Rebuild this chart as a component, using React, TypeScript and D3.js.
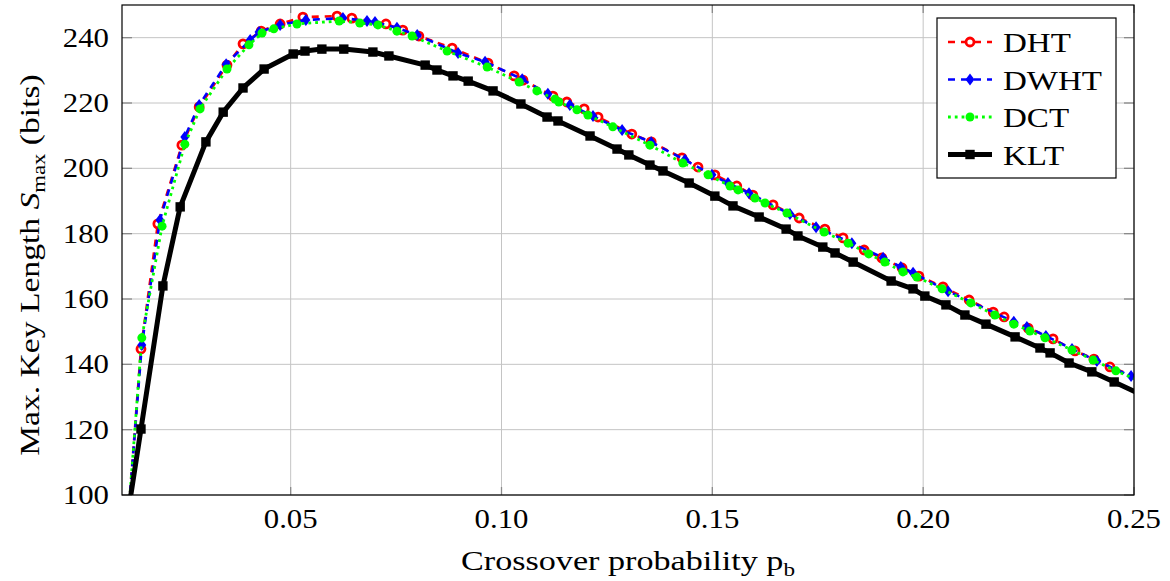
import React from "react";
import * as d3 from "d3";

// ---- Data ----
const xTicks = [0.05, 0.1, 0.15, 0.2, 0.25];
const xTickLabels = ["0.05", "0.10", "0.15", "0.20", "0.25"];
const yTicks = [100, 120, 140, 160, 180, 200, 220, 240];

const dhtX = [0.0117, 0.0145, 0.0185, 0.0242, 0.0283, 0.0349, 0.0387, 0.043, 0.0475, 0.0529, 0.061, 0.0645, 0.0726, 0.0766, 0.0804, 0.0883, 0.0968, 0.103, 0.1051, 0.1122, 0.1155, 0.1196, 0.1229, 0.1309, 0.1355, 0.1428, 0.1466, 0.1506, 0.1558, 0.1596, 0.1644, 0.1706, 0.1767, 0.181, 0.186, 0.1902, 0.195, 0.199, 0.2047, 0.2109, 0.2166, 0.2192, 0.2249, 0.2308, 0.236, 0.2405, 0.2443, 0.2515];
const dhtY = [96.9, 144.7, 183.0, 207.1, 218.8, 231.6, 238.1, 242.0, 244.2, 246.3, 246.6, 246.0, 244.2, 242.3, 240.5, 236.8, 232.2, 228.3, 227.0, 222.1, 220.3, 218.2, 215.7, 210.5, 208.1, 203.2, 200.4, 198.0, 194.6, 191.8, 188.8, 184.8, 181.4, 178.7, 175.0, 172.6, 169.5, 167.0, 163.7, 159.7, 156.0, 154.5, 151.1, 147.8, 144.1, 141.6, 139.2, 135.6];

const dwhtX = [0.0117, 0.0147, 0.019, 0.0249, 0.0283, 0.0347, 0.0404, 0.0425, 0.0475, 0.0536, 0.0624, 0.0681, 0.07, 0.0752, 0.08, 0.0897, 0.0961, 0.1049, 0.111, 0.1162, 0.1217, 0.1286, 0.1355, 0.1435, 0.1499, 0.1537, 0.1587, 0.1684, 0.1746, 0.1831, 0.1905, 0.1947, 0.1976, 0.2059, 0.2215, 0.2246, 0.2291, 0.2353, 0.2412, 0.2493];
const dwhtY = [96.9, 145.9, 184.2, 209.6, 219.4, 231.9, 239.3, 241.7, 243.9, 245.4, 246.0, 245.1, 244.8, 243.0, 240.8, 235.3, 232.6, 227.3, 222.8, 219.4, 216.0, 211.7, 208.0, 202.6, 198.0, 195.5, 192.4, 186.0, 182.0, 177.1, 172.6, 169.8, 168.0, 162.4, 153.0, 151.4, 148.7, 144.7, 141.0, 136.4];

const dctX = [0.0117, 0.0147, 0.0195, 0.0249, 0.0285, 0.0349, 0.0401, 0.0432, 0.046, 0.0515, 0.0615, 0.0664, 0.0707, 0.0752, 0.0788, 0.0871, 0.0966, 0.1042, 0.1084, 0.1127, 0.1136, 0.1179, 0.1205, 0.1264, 0.1352, 0.143, 0.149, 0.1542, 0.1561, 0.1601, 0.1625, 0.1677, 0.1765, 0.1822, 0.1871, 0.1909, 0.1952, 0.1985, 0.2045, 0.2113, 0.217, 0.2215, 0.2253, 0.2289, 0.2353, 0.2403, 0.2457, 0.2512];
const dctY = [96.9, 148.1, 182.3, 207.4, 218.2, 230.4, 237.8, 241.4, 242.7, 244.2, 245.1, 244.5, 243.9, 242.0, 240.5, 235.9, 231.0, 226.4, 223.7, 221.2, 220.3, 217.9, 216.3, 212.7, 207.1, 201.6, 198.0, 194.6, 193.4, 190.9, 189.4, 186.3, 180.5, 177.1, 173.8, 171.3, 168.3, 166.7, 163.1, 158.8, 155.1, 152.3, 150.2, 148.1, 144.4, 141.3, 138.0, 135.0];

const kltX = [0.0118, 0.0145, 0.0197, 0.0238, 0.0299, 0.034, 0.0387, 0.0437, 0.0506, 0.0534, 0.0574, 0.0626, 0.0695, 0.0733, 0.0819, 0.0847, 0.0885, 0.0921, 0.098, 0.1046, 0.1108, 0.1134, 0.121, 0.1274, 0.1302, 0.1352, 0.1383, 0.1445, 0.1506, 0.1549, 0.1611, 0.1675, 0.1703, 0.1762, 0.1791, 0.1834, 0.1924, 0.1976, 0.2004, 0.2054, 0.2099, 0.2149, 0.2218, 0.2277, 0.2301, 0.2346, 0.24, 0.2453, 0.2515];
const kltY = [97.5, 120.2, 164.0, 188.2, 208.1, 217.2, 224.6, 230.4, 235.0, 235.9, 236.5, 236.5, 235.6, 234.4, 231.6, 230.1, 228.3, 226.7, 223.7, 219.7, 215.7, 214.5, 209.9, 205.9, 204.1, 201.0, 199.2, 195.5, 191.5, 188.5, 185.1, 181.4, 179.3, 175.9, 174.1, 171.3, 165.5, 163.1, 160.9, 158.2, 155.1, 152.3, 148.4, 145.0, 143.5, 140.4, 137.7, 134.6, 130.9];

const seriesNames = ["DHT", "DWHT", "DCT", "KLT"];

// ---- Layout ----
const W = 1170, H = 581;
const L = 122, R = 1134, T = 5, B = 495;
const FONT = "'Liberation Serif', 'Times New Roman', serif";
const STRETCH = 1.2; // widen Times-like glyphs toward Computer Modern proportions
const NUM_STRETCH = 1.14;

type Pt = [number, number];
const zip = (xs: number[], ys: number[]): Pt[] => xs.map((x, i) => [x, ys[i]]);

export default function App() {
  const x = d3.scaleLinear().domain([0.01, 0.25]).range([L, R]);
  const y = d3.scaleLinear().domain([100, 250]).range([B, T]);
  const line = d3.line<Pt>().x((d) => x(d[0])).y((d) => y(d[1]));

  const dht = zip(dhtX, dhtY);
  const dwht = zip(dwhtX, dwhtY);
  const dct = zip(dctX, dctY);
  const klt = zip(kltX, kltY);

  const circle = (cx: number, cy: number, key: any, fill: string, stroke: string, r: number, sw: number) => (
    <circle key={key} cx={cx} cy={cy} r={r} fill={fill} stroke={stroke} strokeWidth={sw} />
  );
  const diamond = (cx: number, cy: number, key: any) => (
    <path key={key} d={`M${cx},${cy - 6}L${cx + 4.5},${cy}L${cx},${cy + 6}L${cx - 4.5},${cy}Z`} fill="#0000ff" />
  );
  const square = (cx: number, cy: number, key: any) => (
    <rect key={key} x={cx - 4.7} y={cy - 4.7} width={9.4} height={9.4} fill="#000" />
  );

  const series = [
    { name: seriesNames[0], data: dht, color: "#ff0000", width: 2.6, dash: "7,6", mark: (cx: number, cy: number, k: any) => circle(cx, cy, k, "#fff", "#ff0000", 4, 2.8) },
    { name: seriesNames[1], data: dwht, color: "#0000ff", width: 2.6, dash: "7,6", mark: diamond },
    { name: seriesNames[2], data: dct, color: "#00ff00", width: 2.8, dash: "2.8,4", mark: (cx: number, cy: number, k: any) => circle(cx, cy, k, "#00ff00", "none", 4.5, 0) },
    { name: seriesNames[3], data: klt, color: "#000000", width: 5, dash: undefined as any, mark: square },
  ];

  const legendX = 937, legendY = 18, legendW = 179, legendH = 160;
  const rowH = 37.5;

  return (
    <svg width={W} height={H} style={{ position: "absolute", left: 0, top: 0, background: "#fff" }} fontFamily={FONT}>
      <defs>
        <clipPath id="plotclip">
          <rect x={L} y={T} width={R - L} height={B - T} />
        </clipPath>
      </defs>
      <rect x={0} y={0} width={W} height={H} fill="#fff" />
      {/* grid */}
      {xTicks.map((t) => (
        <line key={"gx" + t} x1={x(t)} x2={x(t)} y1={T} y2={B} stroke="#c4c4c4" strokeWidth={1} />
      ))}
      {yTicks.map((t) => (
        <line key={"gy" + t} x1={L} x2={R} y1={y(t)} y2={y(t)} stroke="#c4c4c4" strokeWidth={1} />
      ))}
      {/* ticks */}
      {xTicks.map((t) => (
        <g key={"tx" + t}>
          <line x1={x(t)} x2={x(t)} y1={B} y2={B - 8} stroke="#8a8a8a" strokeWidth={1.3} />
          <line x1={x(t)} x2={x(t)} y1={T} y2={T + 8} stroke="#8a8a8a" strokeWidth={1.3} />
        </g>
      ))}
      {yTicks.map((t) => (
        <g key={"ty" + t}>
          <line x1={L} x2={L + 10} y1={y(t)} y2={y(t)} stroke="#8a8a8a" strokeWidth={1.3} />
          <line x1={R} x2={R - 10} y1={y(t)} y2={y(t)} stroke="#8a8a8a" strokeWidth={1.3} />
        </g>
      ))}
      {/* series */}
      <g clipPath="url(#plotclip)">
        {series.map((s) => (
          <g key={s.name}>
            <path d={line(s.data) || ""} fill="none" stroke={s.color} strokeWidth={s.width} strokeDasharray={s.dash} strokeLinejoin="round" />
            {s.data.map((d, i) => s.mark(x(d[0]), y(d[1]), i))}
          </g>
        ))}
      </g>
      {/* frame */}
      <rect x={L} y={T} width={R - L} height={B - T} fill="none" stroke="#000" strokeWidth={1.2} />
      {/* tick labels */}
      {xTicks.map((t, i) => (
        <g key={"lx" + t} transform={`translate(${x(t)},528) scale(${NUM_STRETCH},1)`}>
          <text x={0} y={0} fontSize={27} textAnchor="middle" fill="#000">
            {xTickLabels[i]}
          </text>
        </g>
      ))}
      {yTicks.map((t) => (
        <g key={"ly" + t} transform={`translate(109,${y(t) + 9}) scale(${NUM_STRETCH},1)`}>
          <text x={0} y={0} fontSize={27} textAnchor="end" fill="#000">
            {t}
          </text>
        </g>
      ))}
      {/* axis labels */}
      <g transform={`translate(628,570) scale(${STRETCH + 0.02},1)`}>
        <text x={0} y={0} fontSize={28} textAnchor="middle" fill="#000">
          Crossover probability p<tspan fontSize={19} dy={6}>b</tspan>
        </text>
      </g>
      <g transform={`translate(39,265) rotate(-90) scale(${STRETCH},1)`}>
        <text x={0} y={0} fontSize={28} textAnchor="middle" fill="#000">
          Max. Key Length <tspan fontStyle="italic">S</tspan>
          <tspan fontSize={19} dy={6}>max</tspan>
          <tspan dy={-6}> (bits)</tspan>
        </text>
      </g>
      {/* legend */}
      <rect x={legendX} y={legendY} width={legendW} height={legendH} fill="#fff" stroke="#000" strokeWidth={1.2} />
      {series.map((s, i) => {
        const cy = legendY + 24 + i * rowH;
        const x1 = 948, x2 = 992;
        return (
          <g key={"lg" + s.name}>
            <line x1={x1} x2={x2} y1={cy} y2={cy} stroke={s.color} strokeWidth={s.width} strokeDasharray={s.dash} />
            {s.mark((x1 + x2) / 2, cy, "m")}
            <g transform={`translate(1003,${cy + 10}) scale(${STRETCH - 0.02},1)`}>
              <text x={0} y={0} fontSize={28} fill="#000">
                {s.name}
              </text>
            </g>
          </g>
        );
      })}
    </svg>
  );
}
